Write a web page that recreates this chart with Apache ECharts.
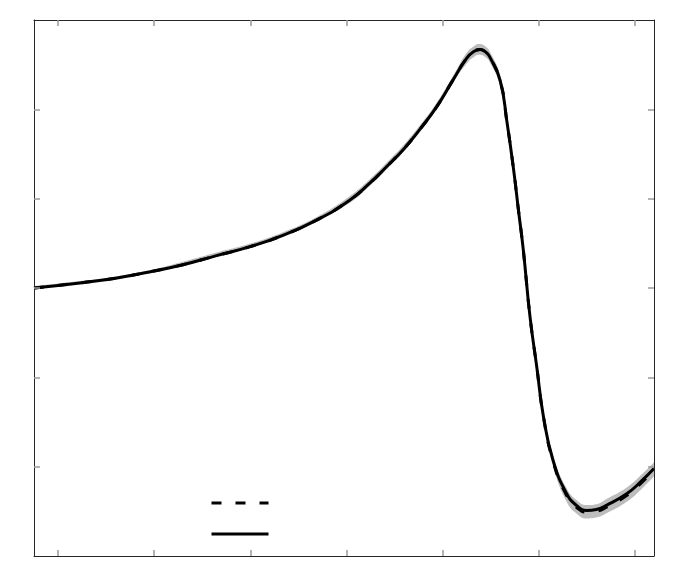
<!DOCTYPE html>
<html>
<head>
<meta charset="utf-8">
<script src="https://cdn.jsdelivr.net/npm/echarts@6/dist/echarts.min.js"></script>
<style>
  html, body { margin: 0; padding: 0; background: #fff; }
  #chart { width: 692px; height: 581px; }
</style>
</head>
<body>
<div id="chart"></div>
<script>
// sample positions along x
var xs = [-0.25, 0.25, 0.6, 0.95, 1.3, 1.64, 1.99, 2.34, 2.69, 3.03,
  3.24, 3.42, 3.6, 3.76, 3.94, 4.11, 4.25, 4.33, 4.39, 4.45,
  4.49, 4.6, 4.67, 4.74, 4.79, 4.84, 4.91, 4.98, 5.05, 5.15,
  5.29, 5.4, 5.5, 5.6, 5.71, 5.92, 6.06, 6.2];

// solid curve
var solidY = [3.00, 3.06, 3.11, 3.18, 3.26, 3.36, 3.46, 3.59, 3.76, 3.98,
  4.17, 4.36, 4.56, 4.77, 5.03, 5.33, 5.57, 5.65, 5.67, 5.64,
  5.59, 5.32, 4.86, 4.32, 3.87, 3.43, 2.68, 2.12, 1.56, 1.07,
  0.70, 0.56, 0.51, 0.52, 0.57, 0.70, 0.83, 0.98];

// dashed curve
var dashedY = [3.00, 3.06, 3.11, 3.18, 3.26, 3.36, 3.46, 3.59, 3.76, 3.98,
  4.17, 4.36, 4.56, 4.77, 5.03, 5.33, 5.57, 5.65, 5.67, 5.64,
  5.59, 5.32, 4.86, 4.32, 3.87, 3.43, 2.68, 2.12, 1.56, 1.06,
  0.68, 0.54, 0.49, 0.50, 0.55, 0.68, 0.81, 0.96];

// gray band limits
var bandLow = [2.995, 3.055, 3.105, 3.175, 3.25, 3.35, 3.45, 3.58, 3.75, 3.95,
  4.14, 4.33, 4.53, 4.74, 5.00, 5.30, 5.51, 5.59, 5.61, 5.58,
  5.53, 5.26, 4.80, 4.26, 3.81, 3.37, 2.62, 2.06, 1.50, 1.01,
  0.61, 0.47, 0.42, 0.43, 0.48, 0.61, 0.74, 0.89];
var bandHigh = [3.02, 3.08, 3.13, 3.20, 3.295, 3.395, 3.495, 3.625, 3.795, 4.025,
  4.215, 4.405, 4.605, 4.815, 5.075, 5.375, 5.63, 5.71, 5.73, 5.70,
  5.65, 5.38, 4.92, 4.38, 3.93, 3.49, 2.74, 2.18, 1.62, 1.13,
  0.76, 0.62, 0.57, 0.58, 0.64, 0.77, 0.90, 1.05];

var xTicks = [0, 1, 2, 3, 4, 5, 6];
var yTicks = [1, 2, 3, 4, 5];

function pairs(ys) {
  return xs.map(function (x, i) { return [x, ys[i]]; });
}

var chart = echarts.init(document.getElementById("chart"));

var frameLine = { show: true, onZero: false, lineStyle: { color: "#262626", width: 1 } };

function xAx(pos) {
  return {
    type: "value", position: pos, min: -0.25, max: 6.2, z: 10,
    axisLine: frameLine,
    axisTick: { show: true, inside: true, length: 6, customValues: xTicks, lineStyle: { color: "#9a9a9a", width: 1.5 } },
    axisLabel: { show: false },
    splitLine: { show: false }
  };
}
function yAx(pos) {
  return {
    type: "value", position: pos, min: 0, max: 6, z: 10,
    axisLine: frameLine,
    axisTick: { show: true, inside: true, length: 6, customValues: yTicks, lineStyle: { color: "#9a9a9a", width: 1.5 } },
    axisLabel: { show: false },
    splitLine: { show: false }
  };
}

var smooth = 0.5;

chart.setOption({
  animation: false,
  grid: { left: 34, right: 38, top: 20, bottom: 25 },
  xAxis: [xAx("bottom"), xAx("top")],
  yAxis: [yAx("left"), yAx("right")],
  legend: {
    data: ["dashed", "solid"],
    orient: "vertical",
    left: 205,
    top: 493,
    z: 10,
    itemWidth: 57,
    itemHeight: 10,
    itemGap: 22,
    formatter: function () { return ""; },
    itemStyle: { opacity: 0 },
    lineStyle: { width: 3 },
    selectedMode: false
  },
  series: [
    // band: gray under the upper limit, then white under the lower limit
    {
      name: "bandHigh", type: "line", smooth: smooth, symbol: "none", z: 1, silent: true,
      data: pairs(bandHigh),
      lineStyle: { width: 0 },
      areaStyle: { color: "#bdbdbd", opacity: 1, origin: "start" }
    },
    {
      name: "bandLow", type: "line", smooth: smooth, symbol: "none", z: 1, silent: true,
      data: pairs(bandLow),
      lineStyle: { width: 0 },
      areaStyle: { color: "#ffffff", opacity: 1, origin: "start" }
    },
    {
      name: "dashed", type: "line", smooth: smooth, symbol: "none", z: 3,
      data: pairs(dashedY),
      lineStyle: { color: "#000", width: 3, type: [10, 14] }
    },
    {
      name: "solid", type: "line", smooth: smooth, symbol: "none", z: 3,
      data: pairs(solidY),
      lineStyle: { color: "#000", width: 3 }
    }
  ]
});
</script>
</body>
</html>
